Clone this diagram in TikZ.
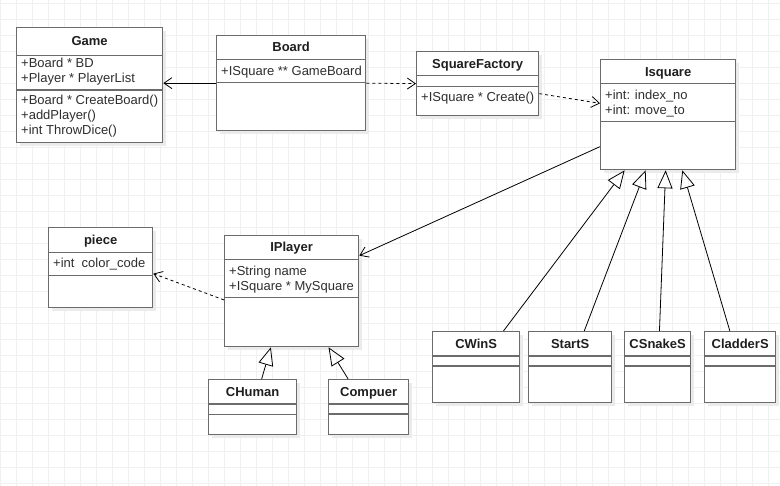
\documentclass[tikz,border=0pt]{standalone}
\usepackage{fontspec}
\setmainfont{Liberation Sans}
\usetikzlibrary{arrows.meta,shadows}

\begin{document}
\begin{tikzpicture}[
    x=1pt, y=-1pt,
    gridline/.style={black!6, line width=0.8pt},
    umlclass/.style={rectangle, draw=black!58, line width=1.3pt, fill=white, anchor=north west, inner sep=0pt,
        drop shadow={shadow xshift=3pt, shadow yshift=-3pt, fill=black!8, draw=none, opacity=1}},
    title/.style={font=\fontsize{13}{14.8}\selectfont\bfseries, text=black!88, inner sep=0pt, text height=9.3pt, text depth=0pt},
    member/.style={font=\fontsize{13}{14.8}\selectfont, text=black!82, anchor=north west, align=left, inner sep=0pt},
    sep/.style={draw=black!58, line width=1.3pt},
    assoc/.style={-{Straight Barb[length=8pt, width=11pt]}, line width=0.8pt},
    depend/.style={assoc, dash pattern=on 3pt off 3pt},
    inherit/.style={-{Triangle[open, length=18pt, width=15pt]}, line width=0.8pt}
]
\useasboundingbox (0,0) rectangle (780,486);

% Grid
\foreach \i in {0,...,48} \draw[gridline] (0.7+16*\i,0) -- (0.7+16*\i,486);
\foreach \j in {0,...,30} \draw[gridline] (0,3.3+16*\j) -- (780,3.3+16*\j);

% Classes
\node[umlclass, minimum width=146pt, minimum height=115pt] (game) at (16,27) {};
\node[umlclass, minimum width=149pt, minimum height=95pt] (board) at (216,35) {};
\node[umlclass, minimum width=122pt, minimum height=64pt] (factory) at (416,51) {};
\node[umlclass, minimum width=135pt, minimum height=110pt] (isquare) at (600,59) {};
\node[umlclass, minimum width=104pt, minimum height=80pt] (piece) at (48,227) {};
\node[umlclass, minimum width=134pt, minimum height=111pt] (iplayer) at (224,235) {};
\node[umlclass, minimum width=88pt, minimum height=55pt] (chuman) at (208,379) {};
\node[umlclass, minimum width=80pt, minimum height=55pt] (compuer) at (328,379) {};
\node[umlclass, minimum width=87pt, minimum height=71pt] (cwins) at (432,331) {};
\node[umlclass, minimum width=83pt, minimum height=71pt] (starts) at (528,331) {};
\node[umlclass, minimum width=66pt, minimum height=71pt] (csnakes) at (624,331) {};
\node[umlclass, minimum width=71pt, minimum height=71pt] (cladders) at (704,331) {};

% Compartment lines
\foreach \n/\a/\b in {game/28.7/63, board/24.3/47.3, factory/24.7/35.7, isquare/24.7/62.7,
    piece/25.3/48.3, iplayer/24.3/62.7, chuman/25/35.3, compuer/25/35,
    cwins/25/35, starts/25/35, csnakes/25/35, cladders/25/35}
  \draw[sep] ([yshift=-\a pt]\n.north west) -- ([yshift=-\a pt]\n.north east)
             ([yshift=-\b pt]\n.north west) -- ([yshift=-\b pt]\n.north east);

% Titles
\node[title] (game-t) at ([yshift=-14.3pt]game.north) {Game};
\node[title] (board-t) at ([yshift=-12.2pt]board.north) {Board};
\node[title] (factory-t) at ([yshift=-12.4pt]factory.north) {SquareFactory};
\node[title] (isquare-t) at ([yshift=-12.4pt]isquare.north) {Isquare};
\node[title] (piece-t) at ([yshift=-12.7pt]piece.north) {piece};
\node[title] (iplayer-t) at ([yshift=-12.2pt]iplayer.north) {IPlayer};
\node[title] (chuman-t) at ([yshift=-12.5pt]chuman.north) {CHuman};
\node[title] (compuer-t) at ([yshift=-12.5pt]compuer.north) {Compuer};
\node[title] (cwins-t) at ([yshift=-12.5pt]cwins.north) {CWinS};
\node[title] (starts-t) at ([yshift=-12.5pt]starts.north) {StartS};
\node[title] (csnakes-t) at ([yshift=-12.5pt]csnakes.north) {CSnakeS};
\node[title] (cladders-t) at ([yshift=-12.5pt]cladders.north) {CladderS};

% Members
\node[member] (game-a) at ([xshift=5pt, yshift=-31pt]game.north west) {+Board * BD\\+Player * PlayerList};
\node[member] (game-m) at ([xshift=5pt, yshift=-68.3pt]game.north west) {+Board * CreateBoard()\\+addPlayer()\\+int ThrowDice()};
\node[member] (board-a) at ([xshift=5pt, yshift=-31pt]board.north west) {+ISquare ** GameBoard};
\node[member] (factory-m) at ([xshift=5pt, yshift=-41pt]factory.north west) {+ISquare * Create()};
\node[member] (isquare-a) at ([xshift=5pt, yshift=-30.6pt]isquare.north west) {+int: index\_no\\+int: move\_to};
\node[member] (piece-a) at ([xshift=5pt, yshift=-31.3pt]piece.north west) {+int\ \ color\_code};
\node[member] (iplayer-a) at ([xshift=5pt, yshift=-31pt]iplayer.north west) {+String name\\+ISquare * MySquare};

% Arrows
\draw[assoc] (board.west) -- (board.west -| game.east);
\draw[depend] (board.east) -- (factory.west);
\draw[depend] ([yshift=-10pt]factory.east) -- ([yshift=11.3pt]isquare.west);
\draw[assoc] ([yshift=-32pt]isquare.west) -- ([yshift=35.5pt]iplayer.east);
\draw[depend] ([yshift=-8.8pt]iplayer.west) -- ([yshift=-6pt]piece.west -| piece.east);
\draw[inherit] ([xshift=9pt]chuman.north) -- ([xshift=-20.8pt]iplayer.south);
\draw[inherit] ([xshift=-20.5pt]compuer.north) -- ([xshift=36.9pt]iplayer.south);
\draw[inherit] ([xshift=27.3pt]cwins.north) -- ([xshift=-43.5pt]isquare.south);
\draw[inherit] ([xshift=14.1pt]starts.north) -- ([xshift=-22.5pt]isquare.south);
\draw[inherit] ([xshift=1.8pt]csnakes.north) -- ([xshift=-2.5pt]isquare.south);
\draw[inherit] ([xshift=-10.3pt]cladders.north) -- ([xshift=14.2pt]isquare.south);

\end{tikzpicture}
\end{document}
